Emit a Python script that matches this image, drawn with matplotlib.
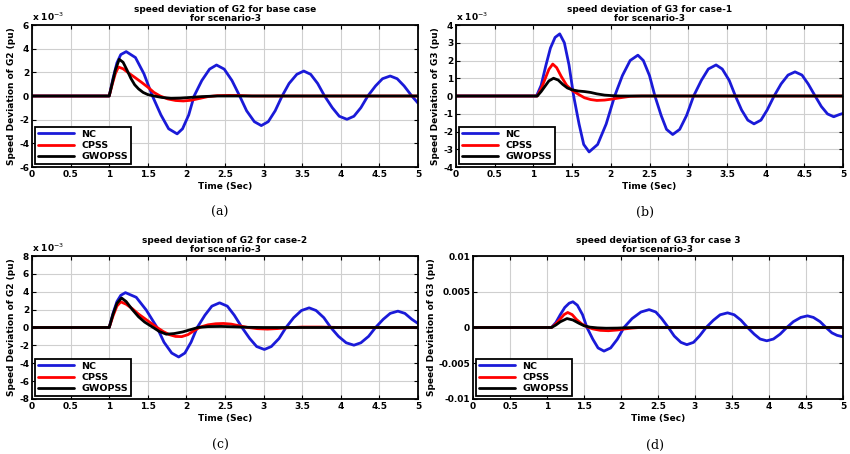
import matplotlib
matplotlib.use("Agg")
import matplotlib.pyplot as plt
import numpy as np

###Data (values in units of 1e-3 pu)###
# panel (a) - G2, base case
a_nc_t = [0, 1.00, 1.05, 1.10, 1.15, 1.22, 1.34, 1.45, 1.56, 1.67, 1.77, 1.88, 1.95, 2.03, 2.10,
          2.20, 2.30, 2.39, 2.49, 2.59, 2.69, 2.78, 2.88, 2.97, 3.06, 3.15, 3.24,
          3.33, 3.43, 3.52, 3.61, 3.70, 3.79, 3.89, 3.98, 4.08, 4.17, 4.26, 4.35,
          4.45, 4.54, 4.64, 4.73, 4.82, 4.92, 5.00]
a_nc_v = [0, 0, 1.5, 2.8, 3.5, 3.75, 3.25, 1.88, 0, -1.6, -2.77, -3.2, -2.77, -1.6, 0,
          1.31, 2.27, 2.62, 2.27, 1.31, 0, -1.25, -2.17, -2.5, -2.17, -1.25, 0,
          1.06, 1.83, 2.11, 1.83, 1.06, 0, -0.99, -1.71, -1.97, -1.71, -0.99, 0,
          0.85, 1.46, 1.69, 1.46, 0.85, 0, -0.6]
a_cp_t = [0, 1.00, 1.04, 1.08, 1.12, 1.18, 1.25, 1.33, 1.42, 1.50, 1.58, 1.66, 1.76, 1.86,
          1.96, 2.06, 2.16, 2.28, 2.40, 2.55, 2.70, 2.85, 5.0]
a_cp_v = [0, 0, 1.0, 1.9, 2.45, 2.3, 1.95, 1.58, 1.15, 0.75, 0.3, 0.0, -0.25, -0.38,
          -0.42, -0.36, -0.22, -0.05, 0.03, 0.05, 0.04, 0, 0]
a_gw_t = [0, 1.00, 1.04, 1.08, 1.13, 1.18, 1.23, 1.28, 1.33, 1.38, 1.44, 1.50, 1.58, 1.68,
          1.80, 1.92, 2.05, 2.20, 2.40, 5.0]
a_gw_v = [0, 0, 1.1, 2.2, 3.1, 2.85, 2.2, 1.5, 0.95, 0.6, 0.3, 0.12, 0.0, -0.12,
          -0.2, -0.18, -0.12, -0.05, 0, 0]

# panel (b) - G3, case-1
b_nc_t = [0, 1.04, 1.10, 1.16, 1.22, 1.28, 1.34, 1.40, 1.46, 1.52, 1.59, 1.65, 1.72, 1.83, 1.94, 2.05,
          2.15, 2.25, 2.35, 2.42, 2.50, 2.57, 2.65, 2.72, 2.80, 2.89, 2.98, 3.07,
          3.17, 3.26, 3.36, 3.44, 3.53, 3.61, 3.69, 3.77, 3.85, 3.94, 4.02, 4.11,
          4.20, 4.29, 4.38, 4.47, 4.55, 4.64, 4.72, 4.80, 4.88, 4.95, 5.00]
b_nc_v = [0, 0, 0.6, 1.7, 2.7, 3.3, 3.5, 3.0, 1.75, 0, -1.58, -2.73, -3.15, -2.73, -1.58, 0,
          1.15, 2.0, 2.3, 2.0, 1.15, 0, -1.09, -1.88, -2.17, -1.88, -1.09, 0,
          0.88, 1.52, 1.75, 1.52, 0.88, 0, -0.79, -1.36, -1.57, -1.36, -0.79, 0,
          0.68, 1.18, 1.36, 1.18, 0.68, 0, -0.59, -1.01, -1.17, -1.05, -0.98]
b_cp_t = [0, 1.05, 1.10, 1.15, 1.20, 1.25, 1.30, 1.36, 1.43, 1.50, 1.58, 1.66, 1.74, 1.82,
          1.92, 2.02, 2.12, 2.25, 2.40, 5.0]
b_cp_v = [0, 0, 0.4, 0.95, 1.5, 1.8, 1.6, 1.1, 0.6, 0.32, 0.1, -0.1, -0.2, -0.25,
          -0.23, -0.17, -0.1, -0.02, 0, 0]
b_gw_t = [0, 1.05, 1.10, 1.15, 1.20, 1.26, 1.32, 1.38, 1.44, 1.50, 1.58, 1.66, 1.74, 1.82,
          1.92, 2.02, 2.12, 5.0]
b_gw_v = [0, 0, 0.25, 0.55, 0.85, 1.0, 0.9, 0.65, 0.45, 0.35, 0.28, 0.25, 0.2, 0.12,
          0.05, 0.02, 0, 0]

# panel (c) - G2, case-2
c_nc_t = [0, 1.00, 1.05, 1.10, 1.15, 1.21, 1.35, 1.48, 1.62, 1.71, 1.81, 1.90, 1.98, 2.06, 2.14,
          2.24, 2.33, 2.43, 2.53, 2.62, 2.72, 2.82, 2.91, 3.01, 3.10, 3.20, 3.29,
          3.39, 3.49, 3.59, 3.68, 3.78, 3.87, 3.97, 4.07, 4.17, 4.26, 4.36, 4.45,
          4.55, 4.64, 4.74, 4.83, 4.92, 5.00]
c_nc_v = [0, 0, 1.6, 2.9, 3.6, 3.9, 3.38, 1.95, 0, -1.65, -2.86, -3.3, -2.86, -1.65, 0,
          1.38, 2.39, 2.76, 2.39, 1.38, 0, -1.23, -2.13, -2.46, -2.13, -1.23, 0,
          1.1, 1.9, 2.2, 1.9, 1.1, 0, -0.99, -1.71, -1.98, -1.71, -0.99, 0,
          0.92, 1.58, 1.83, 1.58, 0.92, 0.45]
c_cp_t = [0, 1.00, 1.05, 1.10, 1.15, 1.22, 1.30, 1.38, 1.46, 1.54, 1.62, 1.70, 1.78, 1.86,
          1.94, 2.02, 2.10, 2.18, 2.28, 2.38, 2.48, 2.58, 2.68, 2.80, 2.92, 3.05, 3.18,
          3.30, 3.50, 3.75, 4.00, 5.0]
c_cp_v = [0, 0, 1.3, 2.4, 2.87, 2.6, 2.1, 1.5, 1.0, 0.5, 0.0, -0.45, -0.8, -1.0,
          -1.02, -0.8, -0.35, 0.05, 0.3, 0.42, 0.45, 0.38, 0.2, 0.0, -0.13, -0.18, -0.12,
          -0.03, 0.05, 0.05, 0, 0]
c_gw_t = [0, 1.00, 1.05, 1.10, 1.16, 1.22, 1.30, 1.38, 1.46, 1.57, 1.65, 1.74, 1.84, 1.95,
          2.05, 2.15, 2.28, 2.45, 2.60, 2.80, 3.00, 5.0]
c_gw_v = [0, 0, 1.5, 2.7, 3.3, 2.9, 2.0, 1.2, 0.6, 0, -0.45, -0.75, -0.68, -0.5,
          -0.25, 0.0, 0.1, 0.12, 0.08, 0.02, 0, 0]

# panel (d) - G3, case 3
d_nc_t = [0, 1.06, 1.12, 1.18, 1.24, 1.30, 1.35, 1.41, 1.48, 1.54, 1.62, 1.69, 1.77, 1.86, 1.95, 2.04,
          2.15, 2.27, 2.38, 2.47, 2.55, 2.64, 2.72, 2.81, 2.89, 2.98, 3.06, 3.15,
          3.25, 3.34, 3.44, 3.53, 3.62, 3.71, 3.80, 3.88, 3.97, 4.06, 4.15, 4.24,
          4.33, 4.43, 4.52, 4.60, 4.69, 4.77, 4.85, 4.92, 5.00]
d_nc_v = [0, 0, 0.7, 1.8, 2.8, 3.4, 3.6, 3.12, 1.8, 0, -1.65, -2.86, -3.3, -2.86, -1.65, 0,
          1.25, 2.17, 2.5, 2.17, 1.25, 0, -1.2, -2.08, -2.4, -2.08, -1.2, 0,
          1.03, 1.78, 2.05, 1.78, 1.03, 0, -0.93, -1.61, -1.86, -1.61, -0.93, 0,
          0.82, 1.41, 1.63, 1.41, 0.82, 0, -0.75, -1.1, -1.3]
d_cp_t = [0, 1.06, 1.12, 1.18, 1.23, 1.28, 1.34, 1.40, 1.47, 1.54, 1.62, 1.72, 1.83, 1.95,
          2.05, 2.15, 2.25, 5.0]
d_cp_v = [0, 0, 0.5, 1.2, 1.8, 2.1, 1.8, 1.1, 0.5, 0.1, -0.2, -0.4, -0.45, -0.35,
          -0.2, -0.08, 0, 0]
d_gw_t = [0, 1.06, 1.12, 1.18, 1.27, 1.35, 1.43, 1.50, 1.58, 1.68, 1.80, 1.95, 2.10, 2.25, 5.0]
d_gw_v = [0, 0, 0.35, 0.8, 1.25, 1.05, 0.6, 0.25, 0.05, -0.05, -0.1, -0.08, -0.02, 0, 0]

titles = ["speed deviation of G2 for base case\nfor scenario-3",
          "speed deviation of G3 for case-1\nfor scenario-3",
          "speed deviation of G2 for case-2\nfor scenario-3",
          "speed deviation of G3 for case 3\nfor scenario-3"]
ylabels = ["Speed Deviation of G2 (pu)", "Speed Deviation of G3 (pu)",
           "Speed Deviation of G2 (pu)", "Speed Deviation of G3 (pu)"]
panel_tags = ["(a)", "(b)", "(c)", "(d)"]
legend_names = ["NC", "CPSS", "GWOPSS"]
x_ticks = [0, 0.5, 1, 1.5, 2, 2.5, 3, 3.5, 4, 4.5, 5]

###Layout###
positions = [[32/850, 1-167/454, 386/850, 142/454],
             [456/850, 1-167/454, 387/850, 142/454],
             [32/850, 1-399/454, 386/850, 143/454],
             [473/850, 1-399/454, 370/850, 143/454]]
tag_xy = [(220/850, 1-212/454), (645/850, 1-212/454), (220/850, 1-445/454), (655/850, 1-445/454)]
colors = ['#1a1ad8', '#ff0000', '#000000']

series = [[(a_nc_t, a_nc_v), (a_cp_t, a_cp_v), (a_gw_t, a_gw_v)],
          [(b_nc_t, b_nc_v), (b_cp_t, b_cp_v), (b_gw_t, b_gw_v)],
          [(c_nc_t, c_nc_v), (c_cp_t, c_cp_v), (c_gw_t, c_gw_v)],
          [(d_nc_t, d_nc_v), (d_cp_t, d_cp_v), (d_gw_t, d_gw_v)]]
y_ticks = [[-6, -4, -2, 0, 2, 4, 6],
           [-4, -3, -2, -1, 0, 1, 2, 3, 4],
           [-8, -6, -4, -2, 0, 2, 4, 6, 8],
           [-0.01, -0.005, 0, 0.005, 0.01]]
scales = [1, 1, 1, 1e-3]

fig = plt.figure(figsize=(8.5, 4.54), dpi=100)
plt.rcParams['font.family'] = 'DejaVu Sans'

for i in range(4):
    ax = fig.add_axes(positions[i])
    for (t, v), c, name in zip(series[i], colors, legend_names):
        ax.plot(t, np.array(v) * scales[i], color=c, lw=2.0, label=name,
                solid_joinstyle='round', solid_capstyle='round')
    ax.set_xlim(0, 5)
    ax.set_ylim(y_ticks[i][0], y_ticks[i][-1])
    ax.set_xticks(x_ticks)
    ax.set_xticklabels(['%g' % x for x in x_ticks])
    ax.set_yticks(y_ticks[i])
    ax.set_yticklabels(['%g' % y for y in y_ticks[i]])
    ax.grid(True, color='#cfcfcf', lw=0.8, ls='-')
    ax.set_axisbelow(True)
    ax.tick_params(direction='in', top=True, right=True, length=3, labelsize=6.5, pad=2)
    for lab in ax.get_xticklabels() + ax.get_yticklabels():
        lab.set_fontweight('bold')
    for sp in ax.spines.values():
        sp.set_linewidth(1.3)
    ax.set_title(titles[i], fontsize=6.5, fontweight='bold', pad=3, linespacing=1.0)
    ax.set_xlabel("Time (Sec)", fontsize=6.5, fontweight='bold', labelpad=2)
    ax.set_ylabel(ylabels[i], fontsize=6.5, fontweight='bold', labelpad=2)
    if scales[i] == 1:
        ax.text(0.0, 1.015, r'x 10$^{-3}$', transform=ax.transAxes, fontsize=6.5,
                fontweight='bold', va='bottom', ha='left')
    leg = ax.legend(loc='lower left', handlelength=3.8, borderpad=0.3,
                    labelspacing=0.25, fancybox=False, framealpha=1, edgecolor='black',
                    prop={'weight': 'bold', 'size': 6.8}, borderaxespad=0.3)
    leg.get_frame().set_linewidth(1.3)
    fig.text(tag_xy[i][0], tag_xy[i][1], panel_tags[i], ha='center', va='center',
             fontsize=9, family='DejaVu Serif')

fig.savefig("out.png", dpi=100)
